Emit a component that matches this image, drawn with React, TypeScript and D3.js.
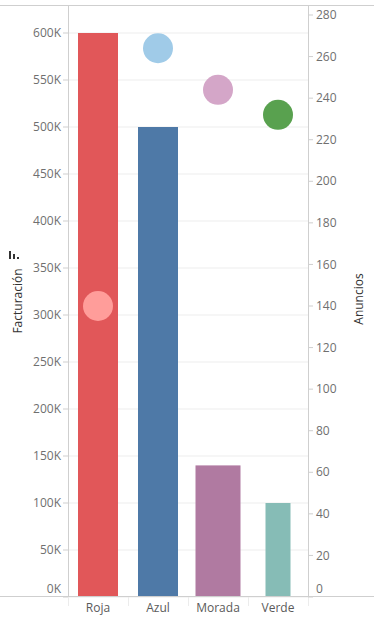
import * as d3 from "d3";

const categories = ["Roja", "Azul", "Morada", "Verde"];
const facturacion = [600000, 500000, 140000, 100000];
const anuncios = [140, 264, 244, 232];
const leftTicks = [0, 50000, 100000, 150000, 200000, 250000, 300000, 350000, 400000, 450000, 500000, 550000, 600000];
const rightTicks = [0, 20, 40, 60, 80, 100, 120, 140, 160, 180, 200, 220, 240, 260, 280];

// bar widths differ per mark in the original (size encoding)
const BAR_W = [40, 40, 45, 25];
const BAR_COLORS = ["#e15759", "#4e79a7", "#b07aa1", "#86bcb6"];
const DOT_COLORS = ["#ff9d9a", "#a0cbe8", "#d4a6c8", "#59a14f"];

const W = 385, H = 621;
const left = 68, right = 308, top = 5, base = 597;
const FONT = "'Open Sans', Lato, sans-serif";

export default function App() {
  const x = d3.scaleBand().domain(categories).range([left, right]).padding(0);
  const yL = d3.scaleLinear().domain([0, 600000]).range([base, 33]);
  const yR = d3.scaleLinear().domain([0, 280]).range([base, 15]);
  const fmt = (v: number) => `${v / 1000}K`;
  const cx = (c: string) => (x(c) as number) + x.bandwidth() / 2;

  return (
    <svg width={W} height={H} style={{ position: "absolute", left: 0, top: 0 }} fontFamily={FONT}>
      {/* gridlines */}
      {leftTicks.map(t => (
        <line key={"g" + t} x1={left} x2={right} y1={yL(t)} y2={yL(t)} stroke="#ededed" />
      ))}

      {/* bars */}
      {categories.map((c, i) => (
        <rect key={c} x={cx(c) - BAR_W[i] / 2} y={yL(facturacion[i])} width={BAR_W[i]}
          height={base - yL(facturacion[i])} fill={BAR_COLORS[i]} />
      ))}

      {/* circles */}
      {categories.map((c, i) => (
        <circle key={"d" + c} cx={cx(c)} cy={yR(anuncios[i])} r={15} fill={DOT_COLORS[i]} />
      ))}

      {/* frame */}
      <line x1={0} x2={374} y1={top + 0.5} y2={top + 0.5} stroke="#cfcfcf" />
      <line x1={0} x2={374} y1={base - 0.5} y2={base - 0.5} stroke="#cfcfcf" />
      <line x1={left + 0.5} x2={left + 0.5} y1={top} y2={base} stroke="#cfcfcf" />
      <line x1={right + 0.5} x2={right + 0.5} y1={top} y2={base} stroke="#cfcfcf" />
      {[...categories.map(c => x(c) as number), right].map(v => (
        <line key={"s" + v} x1={v + 0.5} x2={v + 0.5} y1={base} y2={base + 9} stroke="#ececec" />
      ))}

      {/* left axis */}
      {leftTicks.map(t => (
        <g key={"l" + t}>
          <line x1={left - 5} x2={left} y1={yL(t)} y2={yL(t)} stroke="#cfcfcf" />
          <text x={left - 7} y={t === 0 ? base - 8 : yL(t)} dy="0.35em" textAnchor="end" fontSize={12} fill="#6f6f6f">
            {fmt(t)}
          </text>
        </g>
      ))}

      {/* right axis */}
      {rightTicks.map(t => (
        <g key={"r" + t}>
          <line x1={right} x2={right + 5} y1={yR(t)} y2={yR(t)} stroke="#cfcfcf" />
          <text x={right + 8} y={t === 0 ? base - 8 : yR(t)} dy="0.35em" fontSize={12} fill="#6f6f6f">
            {t}
          </text>
        </g>
      ))}

      {/* category labels */}
      {categories.map(c => (
        <text key={"c" + c} x={cx(c)} y={608} dy="0.35em" textAnchor="middle" fontSize={12} fill="#5a5a5a">
          {c}
        </text>
      ))}

      {/* axis titles */}
      <text transform="translate(18,301) rotate(-90)" textAnchor="middle" dy="0.35em" fontSize={12} fill="#333">
        Facturación
      </text>
      <g fill="#333">
        <rect x={9} y={251} width={2} height={8} />
        <rect x={13} y={254} width={2} height={5} />
        <rect x={17} y={257} width={2} height={2} />
      </g>
      <text transform="translate(359,299) rotate(-90)" textAnchor="middle" dy="0.35em" fontSize={12} fill="#333">
        Anuncios
      </text>
    </svg>
  );
}
